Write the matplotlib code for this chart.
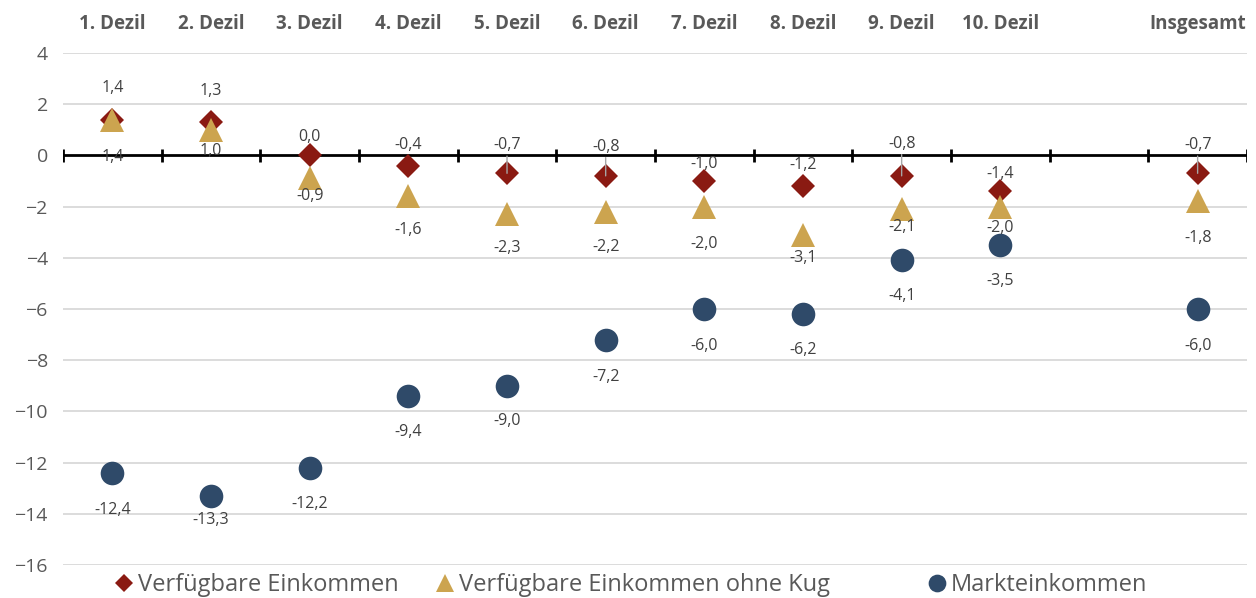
import numpy as np
import matplotlib.pyplot as plt

plt.rcParams["font.family"] = ["Open Sans", "DejaVu Sans"]

cats = ["1. Dezil", "2. Dezil", "3. Dezil", "4. Dezil", "5. Dezil", "6. Dezil",
        "7. Dezil", "8. Dezil", "9. Dezil", "10. Dezil", "", "Insgesamt"]
verf = [1.4, 1.3, 0.0, -0.4, -0.7, -0.8, -1.0, -1.2, -0.8, -1.4, np.nan, -0.7]
ohne_kug = [1.4, 1.0, -0.9, -1.6, -2.3, -2.2, -2.0, -3.1, -2.1, -2.0, np.nan, -1.8]
markt = [-12.4, -13.3, -12.2, -9.4, -9.0, -7.2, -6.0, -6.2, -4.1, -3.5, np.nan, -6.0]

c_verf = "#8A1A12"
c_kug = "#CCA44F"
c_markt = "#2F4A69"
gray = "#595959"

# label offsets in pixels (hand-placed like in the original)
dy_verf = [32, 31, 18, 21, 28, 29, 17, 21, 32, 17, 0, 28]
dy_kug = [-37, -21, -18, -34, -34, -35, -37, -23, -18, -21, 0, -37]
dy_markt = [-37, -24, -36, -36, -35, -37, -37, -36, -36, -36, 0, -37]
leader = [4, 5, 8, 11]

x = np.arange(len(cats))

fig = plt.figure(figsize=(12.56, 5.98), dpi=100)
ax = fig.add_axes([0.0502, 0.0552, 0.9426, 0.8562])

ax.set_xlim(-0.5, len(cats) - 0.5)
ax.set_ylim(-16, 4)
for s in ax.spines.values():
    s.set_visible(False)

# gridlines
for yv in np.arange(-16, 5, 2):
    if yv != 0:
        ax.axhline(yv, color="#D9D9D9", lw=1.3, zorder=0)
ax.axhline(0, color="black", lw=2, zorder=1)
ax.vlines(np.arange(len(cats) + 1) - 0.5, -0.25, 0.25, color="black", lw=2, zorder=1)

ax.set_yticks(np.arange(-16, 5, 2))
ax.tick_params(axis="y", length=0, pad=11, labelsize=14, labelcolor=gray)
ax.xaxis.tick_top()
ax.set_xticks(x)
ax.set_xticklabels(cats, fontweight="bold", fontsize=13.5, color=gray)
ax.tick_params(axis="x", length=0, pad=14)

ax.plot(x, verf, "D", color=c_verf, ms=12, mew=0, zorder=3, label="Verfügbare Einkommen")
ax.plot(x, ohne_kug, "^", color=c_kug, ms=17, mew=0, zorder=4, label="Verfügbare Einkommen ohne Kug")
ax.plot(x, markt, "o", color=c_markt, ms=17, mew=0, zorder=4, label="Markteinkommen")

def fmt(v):
    return f"{v:.1f}".replace(".", ",")

px = 72 / 100
lab = dict(ha="center", va="center", fontsize=11.5, color="#404040", zorder=5,
           textcoords="offset points")
for i in x:
    if np.isnan(verf[i]):
        continue
    ap = dict(arrowstyle="-", color="#A6A6A6", lw=1, shrinkA=0, shrinkB=0) if i in leader else None
    ax.annotate(fmt(verf[i]), (i, verf[i]), xytext=(0, dy_verf[i] * px), arrowprops=ap, **lab)
    ax.annotate(fmt(ohne_kug[i]), (i, ohne_kug[i]), xytext=(0, dy_kug[i] * px), **lab)
    ax.annotate(fmt(markt[i]), (i, markt[i]), xytext=(0, dy_markt[i] * px), **lab)

h, l = ax.get_legend_handles_labels()
for hi, li, xl in zip(h, l, [112, 433, 925]):
    fig.legend([hi], [li], loc="center left", bbox_to_anchor=(xl / 1256, 0.022), frameon=False,
               fontsize=17, labelcolor=gray, handletextpad=0.1, handlelength=1.0,
               markerscale=0.75, borderpad=0, borderaxespad=0)

fig.savefig("out.png", dpi=100)
